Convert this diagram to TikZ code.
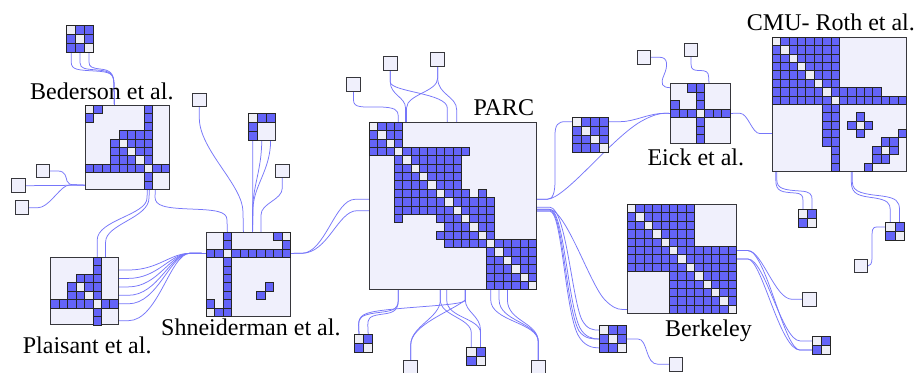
\documentclass[tikz,border=0pt]{standalone}
\usepackage{fontspec}
\setmainfont{Liberation Serif}
\newfontfamily\lblfont{Liberation Serif}
\usetikzlibrary{calc}
\definecolor{matbg}{RGB}{240,240,252}
\definecolor{cellblue}{RGB}{100,100,248}
\definecolor{cellwhite}{RGB}{238,238,246}
\definecolor{bord}{RGB}{55,55,60}
\definecolor{lnkc}{RGB}{118,118,250}
\pgfdeclarelayer{bg}
\pgfsetlayers{bg,main}
\tikzset{
 matbox/.style={draw=bord, fill=matbg, line width=1pt, inner sep=0pt, outer sep=0pt},
 cellb/.style={draw=black!85, fill=cellblue, line width=0.8pt},
 cellw/.style={draw=black!85, fill=cellwhite, line width=0.8pt},
 single/.style={draw=bord, fill=matbg, line width=1pt, inner sep=0pt, outer sep=0pt, minimum size=13.5pt},
 lnk/.style={draw=lnkc, line width=0.75pt},
 lbl/.style={font=\lblfont\fontsize{24}{28}\selectfont, inner sep=0pt, anchor=base west},
}
% #1 name, #2 x, #3 y, #4 n, #5 cell size, #6 blue ranges r/c1/c2, #7 light cells r/c
\newcommand\mtx[7]{%
  \node[matbox, minimum size={#4*#5pt}, anchor=north west] (#1) at (#2,#3) {};
  \foreach \r/\a/\b in {#6} {\foreach \c in {\a,...,\b} {\draw[cellb] ({#2+\c*#5},{#3+\r*#5}) rectangle ++(#5,#5);}}
  \foreach \r/\c in {#7} {\draw[cellw] ({#2+\c*#5},{#3+\r*#5}) rectangle ++(#5,#5);}
}
\begin{document}
\begin{tikzpicture}[x=1pt,y=-1pt]
\useasboundingbox (0,0) rectangle (917,372);

% ---------- matrices ----------
\mtx{bed}{85.4}{105.4}{10}{8.4}{0/1/1,0/7/7,1/0/0,1/7/7,2/7/7,3/4/7,4/3/3,4/5/7,5/3/4,5/6/7,6/3/5,6/7/7,7/0/6,7/8/9,8/7/7,9/7/7}{0/0,4/4,5/5,6/6,7/7}
\mtx{pla}{50.7}{257.3}{8}{8.45}{0/5/5,1/5/5,2/3/5,3/2/2,3/4/5,4/2/3,4/5/5,5/0/4,5/6/7,6/5/5,7/5/5}{3/3,4/4,5/5}
\mtx{shn}{206.4}{232.4}{10}{8.4}{0/2/2,0/8/8,1/2/2,1/9/9,2/0/1,2/3/9,3/2/2,4/2/2,5/2/2,6/2/2,6/7/7,7/2/2,7/6/6,8/0/0,8/2/2,9/1/2}{0/9,2/2,9/0}
\mtx{parc}{369.3}{122.3}{20}{8.37}{0/1/3,1/0/0,1/2/3,2/0/1,2/3/3,3/0/2,3/4/11,4/3/3,4/5/10,5/3/4,5/6/10,6/3/5,6/7/10,7/3/6,7/8/10,8/3/7,8/9/11,8/13/13,9/3/8,9/10/14,10/3/9,10/11/14,11/3/3,11/8/10,11/12/14,12/9/11,12/13/14,13/8/12,13/14/14,14/9/13,14/15/19,15/14/14,15/16/19,16/14/15,16/17/19,17/14/16,17/18/19,18/14/17,18/19/19,19/14/18}{0/0,1/1,2/2,3/3,4/4,5/5,6/6,7/7,8/8,9/9,10/10,11/11,12/12,13/13,14/14,15/15,16/16,17/17,18/18,19/19}
\mtx{eick}{670.4}{83.4}{7}{8.57}{0/2/3,1/3/3,2/0/0,2/3/3,3/0/2,3/4/6,4/3/3,5/3/3,6/3/3}{3/3}
\mtx{cmu}{772.3}{37.3}{16}{8.375}{0/1/7,1/0/0,1/2/7,2/0/1,2/3/7,3/0/2,3/4/7,4/0/3,4/5/7,5/0/4,5/6/7,6/0/5,6/7/12,7/0/6,7/8/15,8/6/7,9/6/7,9/10/10,10/6/7,10/9/9,10/11/11,11/6/7,11/10/10,11/15/15,12/6/7,12/13/14,13/7/7,13/12/12,13/14/14,14/7/7,14/12/13,15/7/7,15/11/11}{0/0,1/1,2/2,3/3,4/4,5/5,6/6,7/7,10/10,13/13}
\mtx{berk}{627.3}{204.3}{13}{8.41}{0/1/7,1/0/0,1/2/7,2/0/1,2/3/7,3/0/2,3/4/7,4/0/3,4/5/7,5/0/4,5/6/12,6/0/5,6/7/12,7/0/6,7/8/12,8/5/7,8/9/12,9/5/8,9/10/12,10/5/9,10/11/12,11/5/10,11/12/12,12/5/11}{0/0,1/1,2/2,3/3,4/4,5/5,6/6,7/7,8/8,9/9,10/10,11/11,12/12}
\mtx{bedsm}{66.7}{25.3}{3}{8.9}{0/1/2,1/0/0,1/2/2,2/0/1}{0/0,1/1,2/2}
\mtx{shnsm}{248.4}{113.4}{3}{8.9}{0/1/2,1/0/0,2/0/0}{0/0}
\mtx{eicksm}{572.7}{117.3}{4}{8.85}{0/1/3,1/0/0,1/2/3,2/0/1,2/3/3,3/0/2}{0/0,1/1,2/2,3/3}
\mtx{berksm}{599.4}{325.7}{3}{8.9}{0/1/2,1/0/0,1/2/2,2/0/1}{0/0,1/1,2/2}
\mtx{cmuA}{798.3}{209.3}{2}{9.2}{0/1/1,1/0/0}{0/0,1/1}
\mtx{cmuB}{885.7}{222.3}{2}{9.2}{0/1/1,1/0/0}{0/0,1/1}
\mtx{berkB}{812.3}{336.3}{2}{9.2}{0/1/1,1/0/0}{0/0,1/1}
\mtx{parcA}{354.4}{334.4}{2}{9.2}{0/1/1,1/0/0}{0/0,1/1}
\mtx{parcB}{466.7}{347.3}{2}{9.2}{0/1/1,1/0/0}{0/0,1/1}

% ---------- single nodes ----------
\node[single] (s1) at (43,171) {};
\node[single] (s2) at (18.3,185.7) {};
\node[single] (s3) at (22,207.7) {};
\node[single] (s4) at (199.3,100) {};
\node[single] (s5) at (282.3,171) {};
\node[single] (s6) at (353.5,84.3) {};
\node[single] (s7) at (390.3,63.3) {};
\node[single] (s8) at (437.7,59.3) {};
\node[single] (s9) at (644,57.3) {};
\node[single] (s10) at (691,50) {};
\node[single] (s11) at (861,266) {};
\node[single] (s12) at (809.7,299.3) {};
\node[single] (s13) at (676,364.3) {};
\node[single] (s14) at (410.7,367.5) {};
\node[single] (s15) at (538.3,367.5) {};

% ---------- labels ----------
\node[lbl] (tbed) at (30,99) {Bederson et al.};
\node[lbl] (tpla) at (22.7,353) {Plaisant et al.};
\node[lbl] (tshn) at (161,335) {Shneiderman et al.};
\node[lbl] (tparc) at (473.3,115) {PARC};
\node[lbl] (teick) at (647.3,165) {Eick et al.};
\node[lbl] (tcmu) at (746.7,30) {CMU- Roth et al.};
\node[lbl] (tberk) at (665,336.7) {Berkeley};

% ---------- links ----------
\begin{pgfonlayer}{bg}
\fill[white] (0,0) rectangle (917,372);
% Bederson small -> Bederson
\draw[lnk] ($(bedsm.south west)+(4.45,0)$) -- (71.2,62) .. controls (71.2,70) and (78,70) .. (95,71) .. controls (110,72) and (114,73) .. (114,85) -- ($(bed.north west)+(29,0)$);
\draw[lnk] ($(bedsm.south west)+(13.35,0)$) -- (80.1,63) .. controls (80.1,69) and (86,69) .. (97,70) .. controls (110,71) and (114,73) .. (114,85) -- ($(bed.north west)+(29,0)$);
\draw[lnk] ($(bedsm.south west)+(22.25,0)$) -- (89,62) .. controls (89,67) and (92,68) .. (100,69) .. controls (110,70) and (114,73) .. (114,85) -- ($(bed.north west)+(29,0)$);
% singles -> Bederson left
\draw[lnk] (s1.east) -- (58,171) .. controls (66,171) and (66,178) .. (67,181) .. controls (68,184) and (70,184.8) .. (75,184.8) -- ($(bed.south west)+(0,-4.2)$);
\draw[lnk] (s2.east) -- ($(bed.south west)+(0,-4.2)$);
\draw[lnk] (s3.east) -- (38,207.7) .. controls (48,207.7) and (58,190) .. (66,186) .. controls (68,185) and (70,184.8) .. (75,184.8) -- ($(bed.south west)+(0,-4.2)$);
% Bederson bottom -> Plaisant, Shneiderman
\draw[lnk] ($(bed.south west)+(62,0)$) -- (147,198) .. controls (147,215) and (97.2,220) .. (97.2,240) -- ($(pla.north west)+(46.5,0)$);
\draw[lnk] ($(bed.south west)+(64,0)$) -- (149,198) .. controls (149,218) and (105.6,224) .. (105.6,242) -- ($(pla.north west)+(54.9,0)$);
\draw[lnk] ($(bed.south west)+(70,0)$) -- (155,197) .. controls (155,206) and (165,208) .. (190,209) .. controls (215,210) and (227,211) .. (227,220) -- ($(shn.north west)+(21,0)$);
% Plaisant right -> Shneiderman left
\foreach \dy in {12.7,21.1,29.6,38.0,46.5,63.4} {
  \draw[lnk] ($(pla.north east)+(0,\dy)$) -- ++(10,0) .. controls +(30,0) and (170,253.3) .. (190,253.3) -- ($(shn.north west)+(0,21)$);
}
% Shneiderman top
\draw[lnk] (s4.south) -- (199.3,118) .. controls (199.3,150) and (243,185) .. (243,212) -- ($(shn.north west)+(37,0)$);
\draw[lnk] ($(shnsm.south west)+(4.45,0)$) -- ($(shn.north west)+(46.2,0)$);
\draw[lnk] ($(shnsm.south west)+(13.35,0)$) .. controls (261.65,170) and (253,185) .. (252.6,210) -- ($(shn.north west)+(46.2,0)$);
\draw[lnk] ($(shnsm.south west)+(22.25,0)$) .. controls (270.55,170) and (254,185) .. (253,208) -- ($(shn.north west)+(46.2,0)$);
\draw[lnk] (s5.south) -- (282.3,188) .. controls (282.3,200) and (261,203) .. (261,215) -- ($(shn.north west)+(54.6,0)$);
% Shneiderman right -> PARC left
\draw[lnk] ($(shn.north east)+(0,21)$) -- (302,253.3) .. controls (325,253) and (335,199.3) .. (355,199.3) -- ($(parc.north west)+(0,77)$);
\draw[lnk] ($(shn.north east)+(0,21)$) -- (302,253.3) .. controls (328,253) and (338,210.7) .. (357,210.7) -- ($(parc.north west)+(0,88.4)$);
% PARC top
\draw[lnk] (s6.south) -- (353.5,100) .. controls (353.5,108) and (362,107) .. (378,107) .. controls (395,107) and (398.3,110) .. (398.3,116) -- ($(parc.north west)+(29,0)$);
\draw[lnk] (s7.south) -- (390.3,82) .. controls (390.3,95) and (405.5,97) .. (405.5,108) -- ($(parc.north west)+(36.2,0)$);
\draw[lnk] (s7.south) -- (390.3,82) .. controls (390.3,92) and (447.3,93) .. (447.3,108) -- ($(parc.north west)+(78,0)$);
\draw[lnk] (s8.south) -- (437.7,78) .. controls (437.7,92) and (407,94) .. (406.5,108) -- ($(parc.north west)+(37.2,0)$);
\draw[lnk] (s8.south) -- (437.7,78) .. controls (437.7,95) and (456.7,96) .. (456.7,110) -- ($(parc.north west)+(87.4,0)$);
% PARC right -> Eick
\draw[lnk] ($(parc.north east)+(0,77)$) -- (547,199.3) .. controls (553,199.3) and (555,193) .. (555,180) -- (555,135) .. controls (555,125) and (558,121.7) .. (565,121.7) -- ($(eicksm.north west)+(0,4.4)$);
\draw[lnk] ($(parc.north east)+(0,77)$) -- (547,199.3) .. controls (565,199) and (610,140) .. (640,122) .. controls (652,115) and (660,113.3) .. (665,113.3) -- ($(eick.north west)+(0,30)$);
\draw[lnk] ($(eicksm.north east)+(0,4.4)$) -- (620,121.7) .. controls (635,121.7) and (648,113.3) .. (665,113.3) -- ($(eick.north west)+(0,30)$);
% PARC right -> Berkeley
\draw[lnk] ($(parc.north east)+(0,87)$) -- (549,209.3) .. controls (566,209.3) and (590,285) .. (605,300) .. controls (612,307) and (617,309.4) .. (622,309.4) -- ($(berk.north west)+(0,105.1)$);
\draw[lnk] ($(parc.north east)+(0,85)$) -- (550,207.3) .. controls (566,208) and (572,300) .. (582,320) .. controls (587,329) and (592,330.15) .. ($(berksm.north west)+(0,4.45)$);
\draw[lnk] ($(parc.north east)+(0,87)$) -- (550,209.3) .. controls (564,210) and (568,305) .. (580,328) .. controls (585,337) and (592,339.05) .. ($(berksm.north west)+(0,13.35)$);
\draw[lnk] ($(parc.north east)+(0,88)$) -- (550,210.3) .. controls (563,211) and (566,308) .. (579,331) .. controls (585,339) and (592,339.05) .. ($(berksm.north west)+(0,13.35)$);
\draw[lnk] ($(parc.north east)+(0,89)$) -- (550,211.3) .. controls (562,212) and (565,310) .. (578,335) .. controls (584,346) and (592,347.95) .. ($(berksm.north west)+(0,22.25)$);
\draw[lnk] ($(berksm.north east)+(0,13.35)$) -- (638,339) .. controls (648,339) and (645,364.3) .. (658,364.3) -- (s13.west);
% Eick
\draw[lnk] (s9.east) -- (660,57.3) .. controls (668,57.3) and (668,66) .. (664,75) .. controls (660,84) and (662,87.6) .. ($(eick.north west)+(0,4.3)$);
\draw[lnk] (s10.south) -- (691,64) .. controls (691,70) and (694,70.5) .. (700,70.5) .. controls (706,70.5) and (708.6,72) .. (708.6,77) -- ($(eick.north west)+(38.6,0)$);
\draw[lnk] ($(eick.north east)+(0,30)$) -- (740,113.3) .. controls (748,113.3) and (752,133.6) .. (760,133.6) -- ($(cmu.north west)+(0,96.3)$);
% CMU bottom
\draw[lnk] ($(cmu.south west)+(3.5,0)$) -- (775.8,180) .. controls (775.8,192) and (782,192) .. (795,193) .. controls (802,193.5) and (802.9,196) .. (802.9,200) -- ($(cmuA.north west)+(4.6,0)$);
\draw[lnk] ($(cmu.south west)+(4.5,0)$) -- (776.8,180) .. controls (776.8,189) and (785,190) .. (800,191) .. controls (810,191.5) and (812.1,194) .. (812.1,200) -- ($(cmuA.north west)+(13.8,0)$);
\draw[lnk] ($(cmu.south west)+(79,0)$) -- (851.3,182) .. controls (851.3,195) and (860,196) .. (875,198) .. controls (887,200) and (890.3,203) .. (890.3,210) -- ($(cmuB.north west)+(4.6,0)$);
\draw[lnk] ($(cmu.south west)+(80,0)$) -- (852.3,182) .. controls (852.3,193) and (865,194) .. (882,196) .. controls (896,198) and (899.5,201) .. (899.5,210) -- ($(cmuB.north west)+(13.8,0)$);
\draw[lnk] ($(cmuB.north west)+(0,4.6)$) -- (877,226.9) .. controls (872,226.9) and (872,230) .. (872,240) -- (872,258) .. controls (872,264) and (870,266) .. (s11.east);
% Berkeley right
\draw[lnk] ($(berk.north east)+(0,46.3)$) -- (748,250.6) .. controls (762,250.6) and (775,299.3) .. (792,299.3) -- (s12.west);
\draw[lnk] ($(berk.north east)+(0,54.7)$) -- (748,259) .. controls (765,259) and (782,340.9) .. (800,340.9) -- ($(berkB.north west)+(0,4.6)$);
\draw[lnk] ($(berk.north east)+(0,54.7)$) -- (748,259) .. controls (762,260) and (780,350.1) .. (800,350.1) -- ($(berkB.north west)+(0,13.8)$);
\draw[lnk] ($(berk.north east)+(0,46.3)$) -- (748,250.6) .. controls (766,251) and (784,350.1) .. (800,350.1) -- ($(berkB.north west)+(0,13.8)$);
% PARC bottom
\draw[lnk] ($(parc.south west)+(29,0)$) -- (398.3,300) .. controls (398.3,311) and (390,311) .. (375,313) .. controls (361,315) and (358.6,318) .. (358.6,325) -- ($(parcA.north west)+(4.6,0)$);
\draw[lnk] ($(parc.south west)+(29,0)$) -- (398.3,300) .. controls (398.3,313) and (390,313) .. (380,314.5) .. controls (369,316) and (367.8,319) .. (367.8,325) -- ($(parcA.north west)+(13.8,0)$);
\draw[lnk] ($(parc.south west)+(96,0)$) -- (465.3,300) .. controls (465.3,305) and (420,306) .. (385,310) .. controls (364,312.5) and (358.6,315) .. (358.6,325) -- ($(parcA.north west)+(4.6,0)$);
\draw[lnk] ($(parc.south west)+(96,0)$) -- (465.3,300) .. controls (465.3,312) and (480.5,316) .. (480.5,330) -- ($(parcB.north west)+(13.8,0)$);
\draw[lnk] ($(parc.south west)+(71,0)$) -- (440.3,300) .. controls (440.3,316) and (471.3,318) .. (471.3,333) -- ($(parcB.north west)+(4.6,0)$);
\draw[lnk] ($(parc.south west)+(77.4,0)$) -- (446.7,300) .. controls (446.7,318) and (480.5,318) .. (480.5,333) -- ($(parcB.north west)+(13.8,0)$);
\draw[lnk] ($(parc.south west)+(96,0)$) -- (465.3,300) .. controls (450,312) and (410.7,325) .. (410.7,345) -- (s14.north);
\draw[lnk] ($(parc.south west)+(71,0)$) -- (440.3,300) .. controls (440.3,318) and (410.7,326) .. (410.7,345) -- (s14.north);
\foreach \dx in {121.4,129.8,138.1} {
  \draw[lnk] ($(parc.south west)+(\dx,0)$) -- ++(0,10) .. controls +(0,22) and (538.3,322) .. (538.3,342) -- (s15.north);
}
\end{pgfonlayer}
\end{tikzpicture}
\end{document}
